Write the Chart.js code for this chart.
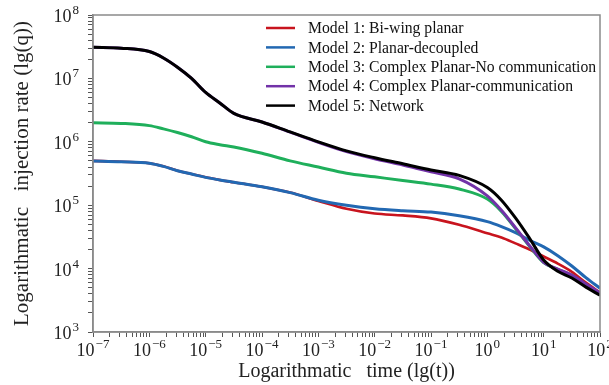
<!DOCTYPE html>
<html>
<head>
<meta charset="utf-8">
<script src="https://cdn.jsdelivr.net/npm/chart.js@4.4.1/dist/chart.umd.min.js"></script>
<style>
  html, body { margin: 0; padding: 0; background: #fff; }
  #wrap { width: 609px; height: 385px; }
</style>
</head>
<body>
<div id="wrap"><canvas id="rateChart" width="609" height="385"></canvas></div>
<script>
// time samples (s); quarter decades around the early drop and at the end
var times = [1e-7, 3.16e-7, 1e-6, 1.78e-6, 3.16e-6, 5.62e-6, 1e-5, 1.78e-5, 3.16e-5, 1e-4,
             3.16e-4, 1e-3, 3.16e-3, 1e-2, 3.16e-2, 1e-1, 3.16e-1, 1, 1.78, 3.16, 5.62,
             10, 17.8, 31.6, 56.2, 100];

var model1 = [5.0e5, 4.85e5, 4.6e5, 4.1e5, 3.5e5, 3.1e5, 2.75e5, 2.5e5, 2.3e5, 1.95e5,
              1.58e5, 1.17e5, 8.8e4, 7.4e4, 6.9e4, 6.2e4, 4.9e4, 3.6e4, 3.1e4, 2.5e4, 2.0e4,
              1.55e4, 1.2e4, 8.9e3, 6.0e3, 4.2e3];
var model2 = [5.0e5, 4.85e5, 4.6e5, 4.1e5, 3.5e5, 3.1e5, 2.75e5, 2.5e5, 2.3e5, 1.95e5,
              1.58e5, 1.2e5, 1.0e5, 8.8e4, 8.2e4, 7.8e4, 6.8e4, 5.5e4, 4.6e4, 3.7e4, 2.8e4,
              2.2e4, 1.6e4, 1.1e4, 7.2e3, 4.9e3];
var model3 = [2.0e6, 1.95e6, 1.8e6, 1.6e6, 1.4e6, 1.2e6, 1.0e6, 9.0e5, 8.3e5, 6.6e5,
              5.0e5, 4.0e5, 3.2e5, 2.8e5, 2.45e5, 2.15e5, 1.8e5, 1.25e5, 8.0e4, 4.3e4, 2.25e4,
              1.24e4, 9.7e3, 7.8e3, 5.6e3, 4.0e3];
var model4 = [3.1e7, 3.0e7, 2.65e7, 2.1e7, 1.5e7, 1.0e7, 6.0e6, 4.1e6, 2.8e6, 2.05e6,
              1.42e6, 9.8e5, 7.0e5, 5.4e5, 4.3e5, 3.35e5, 2.6e5, 1.4e5, 8.3e4, 4.4e4, 2.3e4,
              1.26e4, 9.8e3, 7.9e3, 5.7e3, 4.1e3];
var model5 = [3.1e7, 3.0e7, 2.65e7, 2.1e7, 1.5e7, 1.0e7, 6.0e6, 4.1e6, 2.8e6, 2.05e6,
              1.43e6, 1.0e6, 7.2e5, 5.6e5, 4.5e5, 3.6e5, 2.95e5, 1.9e5, 1.2e5, 6.3e4, 3.0e4,
              1.37e4, 9.1e3, 7.1e3, 5.1e3, 3.8e3];

var labels = ['Model 1: Bi-wing planar', 'Model 2: Planar-decoupled',
              'Model 3: Complex Planar-No communication', 'Model 4: Complex Planar-communication',
              'Model 5: Network'];
var colors = ['#C8141E', '#2268B2', '#1FAF5B', '#7232A8', '#000000'];
var widths = [2.6, 3, 3, 3, 3];
var series = [model1, model2, model3, model4, model5];

var serif = "'Liberation Serif', 'Times New Roman', serif";

// ticks at 1..9 x 10^n for every decade in range
function decadeTicks(scale) {
  var lo = Math.round(Math.log10(scale.min)), hi = Math.round(Math.log10(scale.max));
  var t = [];
  for (var e = lo; e < hi; e++) {
    for (var k = 1; k < 10; k++) t.push({ value: k * Math.pow(10, e) });
  }
  t.push({ value: Math.pow(10, hi) });
  scale.ticks = t;
}

var datasets = series.map(function (s, i) {
  return {
    label: labels[i],
    data: times.map(function (t, j) { return { x: t, y: s[j] }; }),
    borderColor: colors[i],
    backgroundColor: colors[i],
    borderWidth: widths[i],
    pointRadius: 0,
    cubicInterpolationMode: 'monotone',
    order: 4 - i
  };
});

// box around the plot area
var frame = {
  id: 'frame',
  afterDraw: function (chart) {
    var a = chart.chartArea, ctx = chart.ctx;
    ctx.save();
    ctx.strokeStyle = '#8a8a8a';
    ctx.lineWidth = 1.5;
    ctx.strokeRect(a.left, a.top, a.right - a.left, a.bottom - a.top);
    ctx.restore();
  }
};

// power-of-ten tick labels with a raised exponent
function drawPow(ctx, x, y, exp, align) {
  var base = '10', sup = String(exp).replace('-', '\u2212');
  ctx.font = '18px ' + serif;
  var wb = ctx.measureText(base).width;
  ctx.font = '13px ' + serif;
  var ws = ctx.measureText(sup).width;
  var x0 = align === 'right' ? x - wb - ws - 1 : x - (wb + ws + 1) / 2;
  ctx.font = '18px ' + serif;
  ctx.fillText(base, x0, y);
  ctx.font = '13px ' + serif;
  ctx.fillText(sup, x0 + wb + 1, y - 8);
}

var powLabels = {
  id: 'powLabels',
  afterDraw: function (chart) {
    var ctx = chart.ctx, sx = chart.scales.x, sy = chart.scales.y;
    ctx.save();
    ctx.fillStyle = '#222';
    ctx.textBaseline = 'alphabetic';
    ctx.textAlign = 'left';
    sx.ticks.forEach(function (t) {
      var e = Math.log10(t.value);
      if (Math.abs(e - Math.round(e)) > 1e-6) return;
      drawPow(ctx, sx.getPixelForValue(t.value), sx.top + 24, Math.round(e), 'center');
    });
    sy.ticks.forEach(function (t) {
      var e = Math.log10(t.value);
      if (Math.abs(e - Math.round(e)) > 1e-6) return;
      drawPow(ctx, sy.left + sy.width - 14, sy.getPixelForValue(t.value) + 7, Math.round(e), 'right');
    });
    ctx.restore();
  }
};

// legend drawn inside the plot, no box
var insideLegend = {
  id: 'insideLegend',
  afterDraw: function (chart) {
    var ctx = chart.ctx;
    ctx.save();
    ctx.font = '15.7px ' + serif;
    ctx.textBaseline = 'middle';
    ctx.fillStyle = '#111';
    chart.data.datasets.forEach(function (ds, i) {
      var y = 28 + i * 19.4;
      ctx.strokeStyle = ds.borderColor;
      ctx.lineWidth = 2.5;
      ctx.beginPath();
      ctx.moveTo(266, y);
      ctx.lineTo(295, y);
      ctx.stroke();
      ctx.fillText(ds.label, 308, y + 1);
    });
    ctx.restore();
  }
};

var ctx = document.getElementById('rateChart').getContext('2d');
var myChart = new Chart(ctx, {
  type: 'line',
  data: { datasets: datasets },
  plugins: [frame, powLabels, insideLegend],
  options: {
    responsive: false,
    animation: false,
    layout: { padding: { left: 10, right: 9, top: 15, bottom: 1 } },
    plugins: { legend: { display: false }, tooltip: { enabled: false } },
    scales: {
      x: {
        type: 'logarithmic',
        min: 1e-7,
        max: 1e2,
        afterBuildTicks: decadeTicks,
        afterFit: function (s) { s.height = 52; s.paddingRight = 0; s.paddingLeft = 0; },
        border: { display: true, color: '#8a8a8a', width: 1.5 },
        grid: { display: true, drawOnChartArea: false, drawTicks: true, tickLength: 5, color: '#555', lineWidth: 1 },
        ticks: { display: false, autoSkip: false },
        title: {
          display: true, text: 'Logarithmatic   time (lg(t))', color: '#222',
          font: { family: serif, size: 20, lineHeight: 1.2 }, padding: { top: 0, bottom: 0 }
        }
      },
      y: {
        type: 'logarithmic',
        min: 1e3,
        max: 1e8,
        afterBuildTicks: decadeTicks,
        afterFit: function (s) { s.width = 83; s.paddingTop = 0; s.paddingBottom = 0; },
        border: { display: true, color: '#8a8a8a', width: 1.5 },
        grid: { display: true, drawOnChartArea: false, drawTicks: true, tickLength: 5, color: '#555', lineWidth: 1 },
        ticks: { display: false, autoSkip: false },
        title: {
          display: true, text: 'Logarithmatic   injection rate (lg(q))', color: '#222',
          font: { family: serif, size: 21, lineHeight: 1.2 }, padding: { top: 0, bottom: 0 }
        }
      }
    }
  }
});
</script>
</body>
</html>
